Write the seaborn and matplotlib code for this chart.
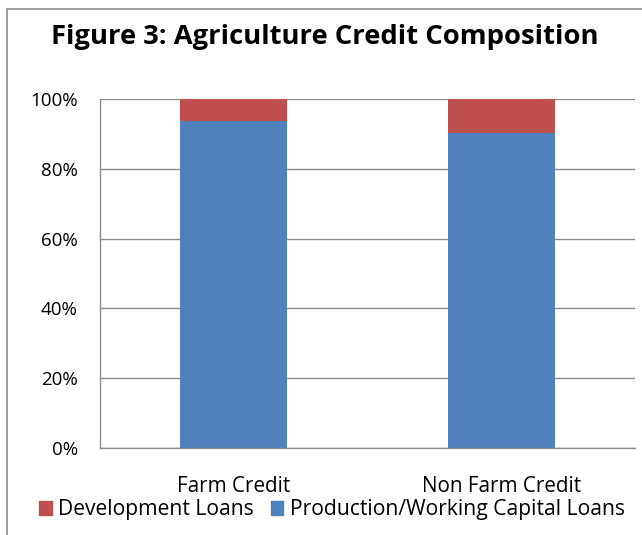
import matplotlib
matplotlib.use("Agg")
import matplotlib.pyplot as plt
import seaborn as sns
import pandas as pd
from matplotlib.patches import Rectangle, Patch

categories = ["Farm Credit", "Non Farm Credit"]
production = [93.8, 90.2]
development = [6.2, 9.8]
yticks = [0, 20, 40, 60, 80, 100]
ytick_labels = ["0%", "20%", "40%", "60%", "80%", "100%"]

blue = "#4F81BD"
red = "#C0504D"

sns.set_style("white")
plt.rcParams["font.family"] = ["Open Sans", "DejaVu Sans"]
plt.rcParams["text.color"] = "black"
plt.rcParams["xtick.color"] = "black"
plt.rcParams["ytick.color"] = "black"

df = pd.DataFrame({"cat": categories, "prod": production, "dev": development})
df["total"] = df["prod"] + df["dev"]

fig = plt.figure(figsize=(6.42, 5.35), dpi=100)
ax = fig.add_axes([100/642, 1-448/535, 535/642, 349/535])

sns.barplot(data=df, x="cat", y="total", color=red, width=0.4, ax=ax,
            saturation=1, linewidth=0)
sns.barplot(data=df, x="cat", y="prod", color=blue, width=0.4, ax=ax,
            saturation=1, linewidth=0)

ax.set_ylim(0, 100)
ax.set_xlim(-0.5, 1.5)
ax.set_yticks(yticks)
ax.set_yticklabels(ytick_labels, fontsize=13.5)
ax.yaxis.grid(True, color="#8c8c8c", linewidth=1)
ax.set_axisbelow(True)
ax.set_xlabel("")
ax.set_ylabel("")
ax.set_xticks([0, 1])
ax.set_xticklabels(categories, fontsize=14.9)
ax.tick_params(axis="x", which="major", length=0, pad=20)
ax.set_xticks([-0.5, 0.5, 1.5], minor=True)
ax.tick_params(axis="x", which="minor", length=7, color="#8c8c8c", width=1)
ax.tick_params(axis="y", length=7, color="#8c8c8c", width=1, pad=9)
for s in ["top", "right"]:
    ax.spines[s].set_visible(False)
for s in ["left", "bottom"]:
    ax.spines[s].set_color("#8c8c8c")
    ax.spines[s].set_linewidth(1)

fig.text(0.5 + 7/642/2, 1-37/535, "Figure 3: Agriculture Credit Composition",
         ha="center", va="center", fontsize=19.7, fontweight="bold", color="black")

handles = [Patch(color=red, label="Development Loans"),
           Patch(color=blue, label="Production/Working Capital Loans")]
fig.legend(handles=handles, loc="center", bbox_to_anchor=(332/642, 1-510/535),
           ncol=2, frameon=False, fontsize=15.2, handlelength=0.6, handleheight=0.6,
           handletextpad=0.3, columnspacing=0.8, borderaxespad=0)

fig.patches.append(Rectangle((7/642, -0.1), 1.2, 1-9/535+0.1, transform=fig.transFigure,
                             fill=False, edgecolor="#8c8c8c", linewidth=1.2))

fig.savefig("out.png", dpi=100)
